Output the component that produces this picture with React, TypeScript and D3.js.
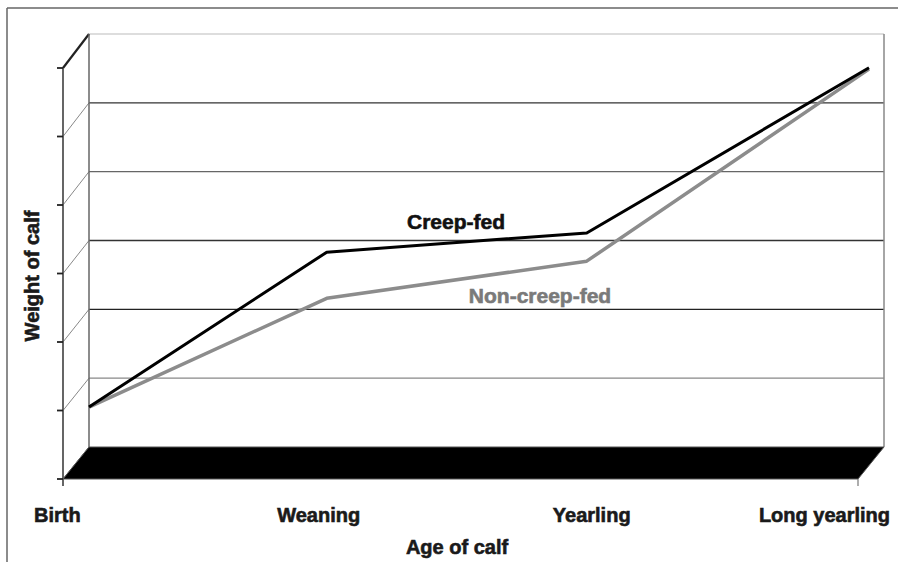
import React from "react";
import * as d3 from "d3";

// categories and relative age (months, read from spacing)
const categories = ["Birth", "Weaning", "Yearling", "Long yearling"];
const ages = [0, 6.4, 13.4, 21];
// weight of calf, arbitrary units (axis has no numbers)
const creepFed = [0.58, 2.83, 3.11, 5.51];
const nonCreepFed = [0.58, 2.16, 2.7, 5.49];
const yTicks = [0, 1, 2, 3, 4, 5, 6];
const gridColors = ["#000", "#888", "#222", "#333", "#666", "#333", "#bbb"];

const W = 898;
const H = 562;
const depthX = 26;

const App = () => {
  const yFront = d3.scaleLinear().domain([0, 6]).range([479, 68]);
  const yBack = d3.scaleLinear().domain([0, 6]).range([447, 34]);
  const xBack = d3.scaleLinear().domain([0, 21]).range([89, 869]);
  const wallLeft = 89;
  const wallRight = 884;
  const frontLeft = wallLeft - depthX;

  const line = d3.line<number>()
    .x((d, i) => xBack(ages[i]))
    .y(d => yBack(d));

  const floor = [
    [wallLeft, yBack(0)],
    [wallRight, yBack(0)],
    [wallRight - depthX, yFront(0)],
    [frontLeft, yFront(0)],
  ];

  const font = "'Liberation Sans', Arial, sans-serif";
  const anchors = ["start", "middle", "middle", "end"];
  const labelX = (i: number) =>
    i === 0 ? 34 : i === categories.length - 1 ? 890 : xBack(ages[i]) - (i === 1 ? 8 : -5);
  const bold = { fontFamily: font, fontWeight: 700, strokeWidth: 0.6 } as const;

  return (
    <svg width={W} height={H} style={{ position: "absolute", left: 0, top: 0, background: "#fff" }}>
      {/* frame */}
      <line x1={7} y1={8} x2={W} y2={8} stroke="#666" strokeWidth={1.5} />
      <line x1={7} y1={8} x2={7} y2={H} stroke="#666" strokeWidth={1.5} />

      {/* back wall gridlines */}
      {yTicks.slice(1).map((t, i) => (
        <line key={"g" + t} x1={wallLeft} x2={wallRight} y1={yBack(t)} y2={yBack(t)}
          stroke={gridColors[i + 1]} strokeWidth={t === 6 ? 1 : 1.3} />
      ))}
      {/* side wall diagonals */}
      {yTicks.map(t => (
        <line key={"d" + t} x1={frontLeft} y1={yFront(t)} x2={wallLeft} y2={yBack(t)}
          stroke={t === 6 ? "#222" : "#888"} strokeWidth={t === 6 ? 2.2 : 1} />
      ))}
      {/* wall verticals */}
      <line x1={wallLeft} x2={wallLeft} y1={yBack(6)} y2={yBack(0)} stroke="#666" strokeWidth={1.5} />
      <line x1={wallRight} x2={wallRight} y1={yBack(6)} y2={yBack(0)} stroke="#888" strokeWidth={1.5} />

      {/* floor */}
      <polygon points={floor.map(p => p.join(",")).join(" ")} fill="#000" stroke="#555" strokeWidth={1} />

      {/* front value axis */}
      <line x1={frontLeft} x2={frontLeft} y1={yFront(6)} y2={yFront(0) + 7} stroke="#555" strokeWidth={1.8} />
      {yTicks.map(t => (
        <line key={"t" + t} x1={frontLeft - 6} x2={frontLeft} y1={yFront(t)} y2={yFront(t)}
          stroke="#222" strokeWidth={1.8} />
      ))}
      <line x1={wallRight - depthX} x2={wallRight - depthX} y1={yFront(0)} y2={yFront(0) + 7}
        stroke="#777" strokeWidth={1.2} />

      {/* series */}
      <path d={line(nonCreepFed) || ""} fill="none" stroke="#8c8c8c" strokeWidth={3.5} strokeLinejoin="round" />
      <path d={line(creepFed) || ""} fill="none" stroke="#000" strokeWidth={3} strokeLinejoin="round" />

      <text x={456} y={229} textAnchor="middle" {...bold} fontSize={21} fill="#111" stroke="#111">
        Creep-fed
      </text>
      <text x={540} y={303} textAnchor="middle" {...bold} fontSize={21} fill="#7a7a7a" stroke="#7a7a7a">
        Non-creep-fed
      </text>

      {/* category labels */}
      {categories.map((c, i) => (
        <text key={c} x={labelX(i)} y={522} textAnchor={anchors[i]} {...bold}
          fontSize={20} fill="#1a1a1a" stroke="#1a1a1a">
          {c}
        </text>
      ))}
      <text x={457} y={554} textAnchor="middle" {...bold} fontSize={20} fill="#1a1a1a" stroke="#1a1a1a">
        Age of calf
      </text>
      <text transform="translate(39,276) rotate(-90)" textAnchor="middle" {...bold}
        fontSize={20} fill="#1a1a1a" stroke="#1a1a1a">
        Weight of calf
      </text>
    </svg>
  );
};

export default App;
